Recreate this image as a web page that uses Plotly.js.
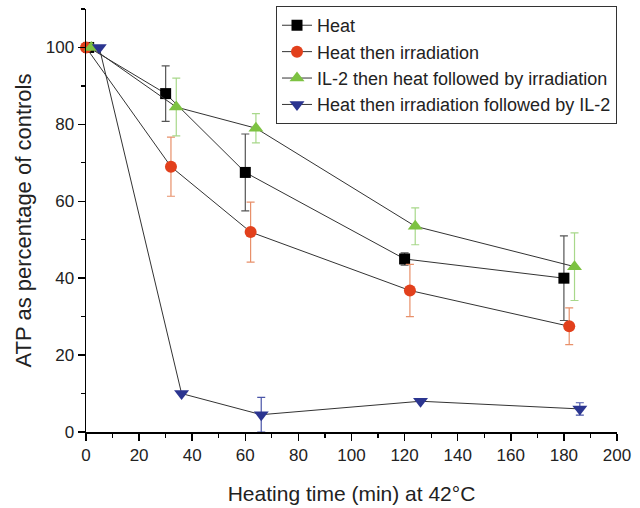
<!DOCTYPE html>
<html>
<head>
<meta charset="utf-8">
<script src="https://cdn.plot.ly/plotly-3.0.1.min.js"></script>
<style>html,body{margin:0;padding:0;background:#fff;}#chart{width:640px;height:508px;}</style>
</head>
<body>
<div id="chart"></div>
<script>
// Heating time (min) per series (slightly offset as in the original figure)
const heatX = [1, 30, 60, 120, 180];
const heatY = [100, 88, 67.5, 45, 40];
const heatErr = [0, 7.2, 10, 1.6, 11];

const irrX = [0, 32, 62, 122, 182];
const irrY = [100, 69, 52, 36.8, 27.5];
const irrErr = [0, 7.7, 7.8, 6.8, 4.8];

const il2HeatX = [2, 34, 64, 124, 184];
const il2HeatY = [100, 84.5, 79, 53.5, 43];
const il2HeatErr = [0, 7.5, 3.8, 4.8, 8.8];

const irrIl2X = [5, 36, 66, 126, 186];
const irrIl2Y = [100, 10, 4.5, 8, 6];
const irrIl2Err = [0, 0, 4.5, 0, 1.6];

const seriesNames = ["Heat", "Heat then irradiation", "IL-2 then heat followed by irradiation", "Heat then irradiation followed by IL-2"];

function mk(x, y, err, name, symbol, color, errColor, size) {
  return {
    x: x, y: y, name: name, type: 'scatter', mode: 'lines+markers',
    line: {color: '#333333', width: 1},
    marker: {symbol: symbol, color: color, size: size, line: {width: 0}},
    error_y: {type: 'data', array: err, visible: true, color: errColor, thickness: 1.2, width: 4},
    cliponaxis: false
  };
}

const data = [
  mk(heatX, heatY, heatErr, seriesNames[0], 'square', '#000000', '#555555', 11),
  mk(irrX, irrY, irrErr, seriesNames[1], 'circle', '#e2401c', '#e8906a', 12),
  mk(il2HeatX, il2HeatY, il2HeatErr, seriesNames[2], 'triangle-up', '#7dc242', '#a8d88a', 13),
  mk(irrIl2X, irrIl2Y, irrIl2Err, seriesNames[3], 'triangle-down', '#2b3590', '#4a55a8', 13)
];

const layout = {
  width: 640, height: 508,
  margin: {l: 86, r: 23, t: 6, b: 76},
  paper_bgcolor: '#ffffff', plot_bgcolor: '#ffffff',
  font: {family: 'Liberation Sans, Arial, sans-serif', color: '#222', size: 17},
  showlegend: true,
  legend: {
    x: 1, y: 1.007, xanchor: 'right', yanchor: 'top',
    bordercolor: '#333', borderwidth: 1, bgcolor: '#ffffff',
    font: {size: 18, color: '#222'}, tracegroupgap: 0, itemwidth: 30
  },
  xaxis: {
    range: [0, 200], dtick: 20, tick0: 0,
    showgrid: false, zeroline: false, showline: true, linecolor: '#000', linewidth: 1.5,
    ticks: 'outside', ticklen: 7, tickwidth: 1.5, tickcolor: '#000',
    minor: {ticks: 'outside', dtick: 10, ticklen: 4, tickwidth: 1.2, tickcolor: '#000', showgrid: false},
    tickfont: {size: 17},
    title: {text: 'Heating time (min) at 42°C', font: {size: 21}, standoff: 22}
  },
  yaxis: {
    range: [0, 110], dtick: 20, tick0: 0,
    showgrid: false, zeroline: false, showline: true, linecolor: '#000', linewidth: 1.5,
    ticks: 'outside', ticklen: 7, tickwidth: 1.5, tickcolor: '#000',
    minor: {ticks: 'outside', dtick: 10, ticklen: 4, tickwidth: 1.2, tickcolor: '#000', showgrid: false},
    tickfont: {size: 17},
    title: {text: 'ATP as percentage of controls', font: {size: 22}, standoff: 8}
  }
};

Plotly.newPlot('chart', data, layout, {displayModeBar: false, staticPlot: true});
</script>
</body>
</html>
